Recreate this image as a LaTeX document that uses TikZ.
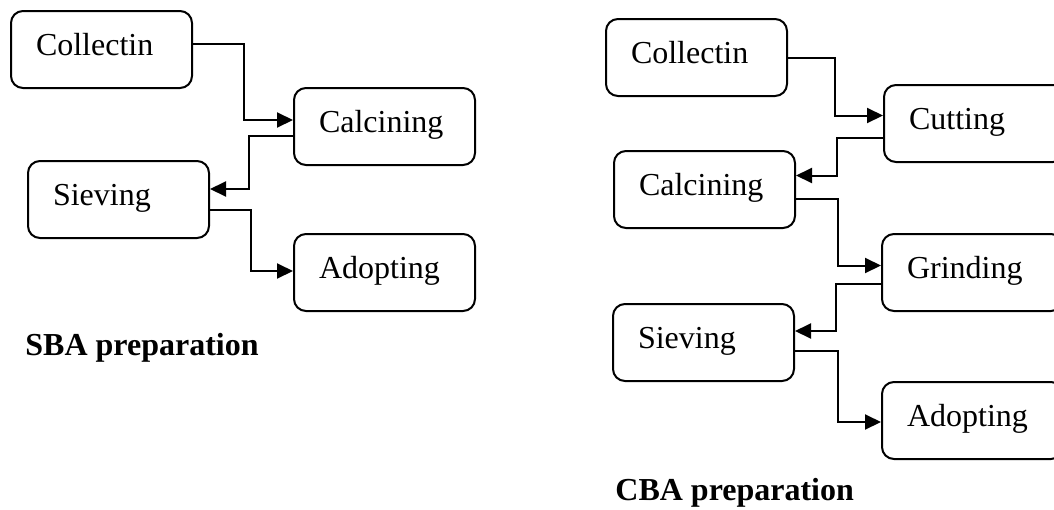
\documentclass[tikz,border=0pt]{standalone}
\usepackage{fontspec}
\setmainfont{Liberation Serif}
\usetikzlibrary{arrows.meta}

\begin{document}
\begin{tikzpicture}[x=0.5pt,y=-0.5pt,
  box/.style={draw,line width=1pt,rounded corners=6pt,anchor=north west,
    inner xsep=12.5pt,inner ysep=0pt,text height=22pt,text depth=16.5pt,
    text width=65.5pt,align=left,font=\fontsize{16}{19}\selectfont},
  arr/.style={line width=1pt,-{Triangle[length=8pt,width=7.5pt]}},
  title/.style={anchor=base west,inner sep=0pt,font=\fontsize{16}{19}\selectfont\bfseries}]
  \useasboundingbox (0,0) rectangle (1054,509);
  \clip (0,0) rectangle (1054,509);
  % SBA
  \node[box] (colA) at (10,10) {Collectin};
  \node[box] (calA) at (293,87) {Calcining};
  \node[box] (sivA) at (27,160) {Sieving};
  \node[box] (adoA) at (293,233) {Adopting};
  \draw[arr] ([yshift=2.75pt]colA.east) -- ++(51,0) |- ([yshift=3.25pt]calA.west);
  \draw[arr] ([yshift=-4.75pt]calA.west) -- ++(-44,0) |- ([yshift=5.25pt]sivA.east);
  \draw[arr] ([yshift=-5.25pt]sivA.east) -- ++(41,0) |- ([yshift=0.75pt]adoA.west);
  \node[title] (sbaT) at (25,355) {SBA preparation};
  % CBA
  \node[box] (colB) at (605,18) {Collectin};
  \node[box] (cutB) at (883,84) {Cutting};
  \node[box] (calB) at (613,150) {Calcining};
  \node[box] (griB) at (881,233) {Grinding};
  \node[box] (sivB) at (612,303) {Sieving};
  \node[box] (adoB) at (881,381) {Adopting};
  \draw[arr] (colB.east) -- ++(47,0) |- ([yshift=4pt]cutB.west);
  \draw[arr] ([yshift=-7pt]cutB.west) -- ++(-46,0) |- ([yshift=7pt]calB.east);
  \draw[arr] ([yshift=-4.5pt]calB.east) -- ++(42,0) |- ([yshift=3.5pt]griB.west);
  \draw[arr] ([yshift=-5.5pt]griB.west) -- ++(-45,0) |- ([yshift=5.75pt]sivB.east);
  \draw[arr] ([yshift=-4.25pt]sivB.east) -- ++(43,0) |- ([yshift=-0.75pt]adoB.west);
  \node[title] (cbaT) at (615,500) {CBA preparation};
\end{tikzpicture}
\end{document}
